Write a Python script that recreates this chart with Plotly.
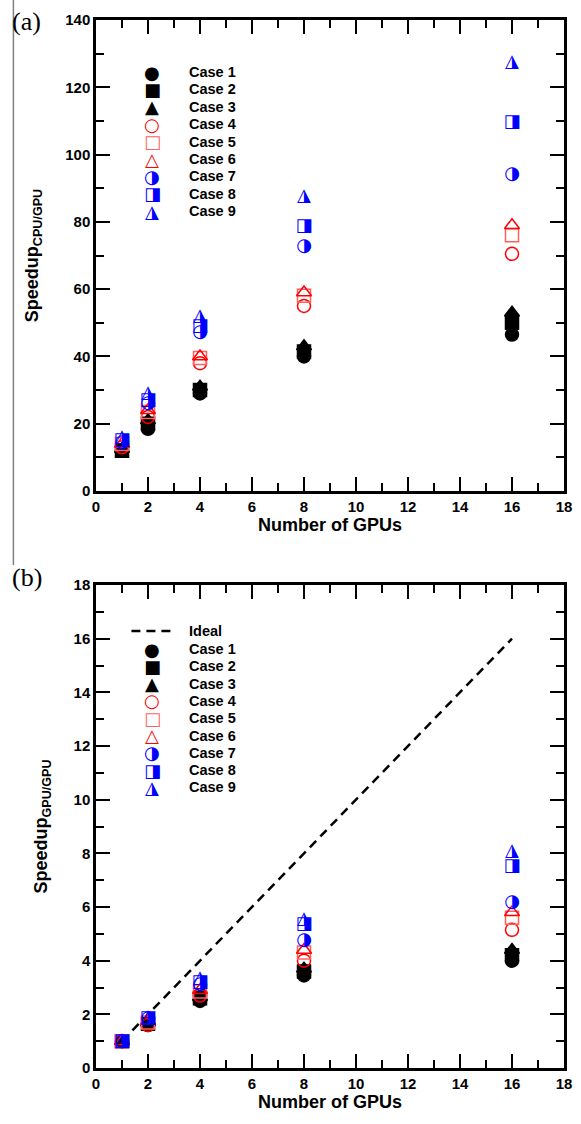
import plotly.graph_objects as go

gpus = [1, 2, 4, 8, 16]
cases = ["Case 1", "Case 2", "Case 3", "Case 4", "Case 5", "Case 6", "Case 7", "Case 8", "Case 9"]

# Panel (a): Speedup CPU/GPU
a_case1 = [12.0, 18.5, 29.0, 40.0, 46.5]
a_case2 = [12.0, 20.0, 30.0, 41.5, 50.0]
a_case3 = [12.5, 21.0, 31.0, 43.0, 53.0]
a_case4 = [13.0, 22.0, 38.0, 55.0, 70.5]
a_case5 = [14.0, 23.5, 39.5, 58.0, 76.0]
a_case6 = [14.0, 24.0, 40.0, 59.0, 79.0]
a_case7 = [14.5, 26.0, 47.0, 72.7, 94.0]
a_case8 = [15.0, 27.0, 49.0, 78.5, 109.5]
a_case9 = [16.0, 29.0, 52.0, 87.5, 127.5]

# Panel (b): Speedup GPU/GPU
b_case1 = [1.0, 1.60, 2.50, 3.45, 4.00]
b_case2 = [1.0, 1.65, 2.60, 3.60, 4.20]
b_case3 = [1.0, 1.70, 2.65, 3.70, 4.40]
b_case4 = [1.0, 1.60, 2.70, 4.00, 5.15]
b_case5 = [1.0, 1.70, 2.85, 4.30, 5.60]
b_case6 = [1.0, 1.75, 2.90, 4.40, 5.80]
b_case7 = [1.0, 1.85, 3.10, 4.75, 6.15]
b_case8 = [1.0, 1.85, 3.20, 5.35, 7.50]
b_case9 = [1.0, 1.90, 3.35, 5.55, 8.05]

ideal_x = [1, 16]
ideal_y = [1, 16]

a_series = [a_case1, a_case2, a_case3, a_case4, a_case5, a_case6, a_case7, a_case8, a_case9]
b_series = [b_case1, b_case2, b_case3, b_case4, b_case5, b_case6, b_case7, b_case8, b_case9]

# styles: (kind, symbol/glyph, color)
styles = [
    ("m", "circle", "black"),
    ("m", "square", "black"),
    ("m", "triangle-up", "black"),
    ("m", "circle-open", "red"),
    ("m", "square-open", "#ff6060"),
    ("m", "triangle-up-open", "red"),
    ("t", "\u25D1", "blue"),
    ("t", "\u25E8", "blue"),
    ("t", "\u25EE", "blue"),
]
legend_glyphs = ["\u25CF", "\u25A0", "\u25B2", "\u25CB", "\u25A1", "\u25B3", "\u25D1", "\u25E8", "\u25EE"]

W, H = 581, 1124
ML, MR, MT, MB = 96, 9, 20, 56
PW = W - ML - MR
PH = H - MT - MB

def px(xp):
    return (xp - ML) / PW

def py(yp):
    return (H - MB - yp) / PH

fig = go.Figure()

MSIZE = 13
GLYPH = 18

def add_series(series, xa, ya):
    for (kind, sym, col), ys in zip(styles, series):
        if kind == "m":
            fig.add_trace(go.Scatter(
                x=gpus, y=ys, mode="markers", xaxis=xa, yaxis=ya, showlegend=False,
                marker=dict(symbol=sym, size=MSIZE, color=col, line=dict(color=col, width=1.5)),
            ))
        else:
            fig.add_trace(go.Scatter(
                x=gpus, y=ys, mode="text", xaxis=xa, yaxis=ya, showlegend=False,
                text=[sym] * len(gpus), textposition="middle center",
                textfont=dict(family="DejaVu Sans", size=GLYPH, color=col),
            ))

fig.add_trace(go.Scatter(x=ideal_x, y=ideal_y, mode="lines", xaxis="x2", yaxis="y2",
                         showlegend=False, line=dict(color="black", width=2.5, dash="9px,6px")))
add_series(a_series, "x", "y")
add_series(b_series, "x2", "y2")

top_dom = [py(491), py(20)]
bot_dom = [0, py(585)]

axis_common = dict(
    showline=True, linecolor="black", linewidth=2.5, mirror="ticks",
    ticks="inside", ticklen=14, tickwidth=2, tickcolor="black",
    showgrid=False, zeroline=False,
    tickfont=dict(family="Liberation Sans", size=15, color="black", weight="bold"),
)
minor = dict(ticks="inside", ticklen=8, tickwidth=2, tickcolor="black", showgrid=False)

title_font = dict(family="Liberation Sans", size=18, color="black", weight="bold")

fig.update_layout(
    width=W, height=H,
    margin=dict(l=ML, r=MR, t=MT, b=MB),
    paper_bgcolor="white", plot_bgcolor="white",
    showlegend=False,
    xaxis=dict(axis_common, domain=[0, 1], range=[0, 18], dtick=2, minor=dict(minor, dtick=1),
               anchor="y", title=dict(text="Number of GPUs", font=title_font, standoff=2)),
    yaxis=dict(axis_common, domain=top_dom, range=[0, 140], dtick=20, minor=dict(minor, dtick=10),
               anchor="x", title=dict(text="Speedup<sub>CPU/GPU</sub>", font=title_font, standoff=22)),
    xaxis2=dict(axis_common, domain=[0, 1], range=[0, 18], dtick=2, minor=dict(minor, dtick=1),
                anchor="y2", title=dict(text="Number of GPUs", font=title_font, standoff=4)),
    yaxis2=dict(axis_common, domain=bot_dom, range=[0, 18], dtick=2, minor=dict(minor, dtick=1),
                anchor="x2", title=dict(text="Speedup<sub>GPU/GPU</sub>", font=title_font, standoff=22)),
)

annotations = []
shapes = []

# Panel labels
annotations.append(dict(text="(a)", xref="paper", yref="paper", x=px(9), y=py(21),
                        xanchor="left", yanchor="middle", showarrow=False,
                        font=dict(family="Liberation Serif", size=26, color="black")))
annotations.append(dict(text="(b)", xref="paper", yref="paper", x=px(9), y=py(577),
                        xanchor="left", yanchor="middle", showarrow=False,
                        font=dict(family="Liberation Serif", size=26, color="black")))

# gray frame line at left edge of panel (a)
shapes.append(dict(type="line", xref="paper", yref="paper", x0=px(12), x1=px(12),
                   y0=py(0), y1=py(565), line=dict(color="#808080", width=1.5)))

legend_font = dict(family="Liberation Sans", size=14.5, color="black", weight="bold")

def add_legend(y0, step):
    for i, (c, g, st) in enumerate(zip(cases, legend_glyphs, styles)):
        yy = y0 + i * step
        annotations.append(dict(text=g, xref="paper", yref="paper", x=px(153), y=py(yy),
                                xanchor="center", yanchor="middle", showarrow=False,
                                font=dict(family="DejaVu Sans", size=GLYPH, color=st[2])))
        annotations.append(dict(text=c, xref="paper", yref="paper", x=px(189), y=py(yy),
                                xanchor="left", yanchor="middle", showarrow=False,
                                font=legend_font))

add_legend(72, 17.4)
# panel (b) legend with Ideal
annotations.append(dict(text="Ideal", xref="paper", yref="paper", x=px(189), y=py(631),
                        xanchor="left", yanchor="middle", showarrow=False, font=legend_font))
shapes.append(dict(type="line", xref="paper", yref="paper", x0=px(132), x1=px(174),
                   y0=py(631), y1=py(631), line=dict(color="black", width=2.5, dash="9px,6px")))
add_legend(649, 17.3)

fig.update_layout(annotations=annotations, shapes=shapes)

fig.write_html("out.html")
